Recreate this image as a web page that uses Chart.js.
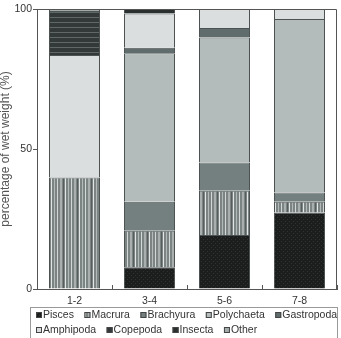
<!DOCTYPE html>
<html>
<head>
<meta charset="utf-8">
<script src="https://cdn.jsdelivr.net/npm/chart.js@4.4.0/dist/chart.umd.min.js"></script>
<style>
  html, body { margin: 0; padding: 0; background: #fff; }
  #wrap { width: 341px; height: 338px; }
</style>
</head>
<body>
<div id="wrap"><canvas id="dietChart" width="341" height="338"></canvas></div>
<script>
const categories = ['1-2', '3-4', '5-6', '7-8'];
const pisces     = [0, 7.8, 19.3, 27.3];
const macrura    = [39.8, 13.0, 15.8, 3.9];
const brachyura  = [0, 10.4, 10.1, 3.3];
const polychaeta = [0, 53.0, 44.6, 61.9];
const gastropoda = [0, 2.0, 3.4, 0];
const amphipoda  = [43.8, 12.2, 6.8, 3.6];
const copepoda   = [15.7, 0, 0, 0];
const insecta    = [0, 1.6, 0, 0];
const other      = [0.7, 0, 0, 0];
const yTickStep = 50;

const FONT = '"Liberation Sans", Arial, sans-serif';

// small canvas patterns for the hatched taxa
function makePattern(w, h, draw) {
  const c = document.createElement('canvas');
  c.width = w; c.height = h;
  draw(c.getContext('2d'));
  return c.getContext('2d').createPattern(c, 'repeat');
}

const piscesFill = makePattern(4, 4, g => {
  g.fillStyle = '#1c1e1e'; g.fillRect(0, 0, 4, 4);
  g.fillStyle = '#2e3232'; g.fillRect(1, 1, 1, 1); g.fillRect(3, 3, 1, 1);
});

const macruraFill = makePattern(14, 4, g => {
  g.fillStyle = '#7b8383'; g.fillRect(0, 0, 14, 4);
  g.fillStyle = '#d2d6d6'; g.fillRect(1, 0, 1, 4);
  g.fillStyle = '#a9afaf'; g.fillRect(4, 0, 2, 4);
  g.fillStyle = '#565d5d'; g.fillRect(7, 0, 1, 4);
  g.fillStyle = '#e2e5e5'; g.fillRect(9, 0, 1, 4);
  g.fillStyle = '#b3b9b9'; g.fillRect(12, 0, 1, 4);
});

const copepodaFill = makePattern(4, 5, g => {
  g.fillStyle = '#333939'; g.fillRect(0, 0, 4, 5);
  g.fillStyle = '#5f6767'; g.fillRect(0, 2, 4, 1);
});

function series(label, data, color) {
  return { label, data, backgroundColor: color, borderColor: '#4d5353', borderWidth: 1 };
}

const frame = {
  id: 'frame',
  afterDatasetsDraw(chart) {
    const { ctx, chartArea: a } = chart;
    ctx.save();
    ctx.strokeStyle = '#555';
    ctx.lineWidth = 1;
    ctx.beginPath();
    ctx.moveTo(a.left, Math.round(a.top) + 0.5);
    ctx.lineTo(Math.round(a.right) - 0.5, Math.round(a.top) + 0.5);
    ctx.lineTo(Math.round(a.right) - 0.5, a.bottom);
    ctx.stroke();
    ctx.restore();
  }
};

const legendBox = {
  id: 'legendBox',
  afterDraw(chart) {
    const ctx = chart.ctx;
    ctx.save();
    ctx.strokeStyle = '#9a9a9a';
    ctx.lineWidth = 1;
    ctx.strokeRect(30.5, 307.5, 307, 40);
    ctx.font = '10.5px ' + FONT;
    ctx.textBaseline = 'middle';
    let x = 36, y = 315;
    chart.data.datasets.forEach(ds => {
      const w = 7 + ctx.measureText(ds.label).width;
      if (x + w > 340) { x = 36; y += 15; }
      ctx.fillStyle = ds.backgroundColor;
      ctx.fillRect(x, y - 3, 6, 6);
      ctx.strokeStyle = '#444';
      ctx.strokeRect(x + 0.5, y - 2.5, 5, 5);
      ctx.fillStyle = '#333';
      ctx.fillText(ds.label, x + 7, y + 0.5);
      x += w + 10.5;
    });
    ctx.restore();
  }
};

new Chart(document.getElementById('dietChart'), {
  type: 'bar',
  data: {
    labels: categories,
    datasets: [
      series('Pisces', pisces, piscesFill),
      series('Macrura', macrura, macruraFill),
      series('Brachyura', brachyura, '#748080'),
      series('Polychaeta', polychaeta, '#b3bcbb'),
      series('Gastropoda', gastropoda, '#616c6c'),
      series('Amphipoda', amphipoda, '#dadede'),
      series('Copepoda', copepoda, copepodaFill),
      series('Insecta', insecta, '#2a2f2f'),
      series('Other', other, '#a3abab')
    ]
  },
  options: {
    responsive: false,
    animation: false,
    categoryPercentage: 0.68,
    barPercentage: 1,
    layout: { padding: { top: 9, right: 4, left: 0, bottom: 0 } },
    plugins: { legend: { display: false }, tooltip: { enabled: false } },
    scales: {
      x: {
        stacked: true,
        afterFit(s) { s.height = 49; },
        grid: { offset: true, drawOnChartArea: false, drawTicks: true, tickLength: -4, color: '#555' },
        border: { color: '#555' },
        ticks: { color: '#333', font: { size: 10.5, family: FONT }, padding: 10 }
      },
      y: {
        stacked: true,
        min: 0,
        max: 100,
        afterFit(s) { s.width = 37; },
        grid: { drawOnChartArea: false, tickLength: 4, color: '#555' },
        border: { color: '#555' },
        ticks: { stepSize: yTickStep, color: '#333', font: { size: 10.5, family: FONT }, padding: 1 },
        title: {
          display: true,
          text: 'percentage of wet weight (%)',
          color: '#555',
          font: { size: 12, family: FONT, lineHeight: 1 },
          padding: 0
        }
      }
    }
  },
  plugins: [frame, legendBox]
});
</script>
</body>
</html>
